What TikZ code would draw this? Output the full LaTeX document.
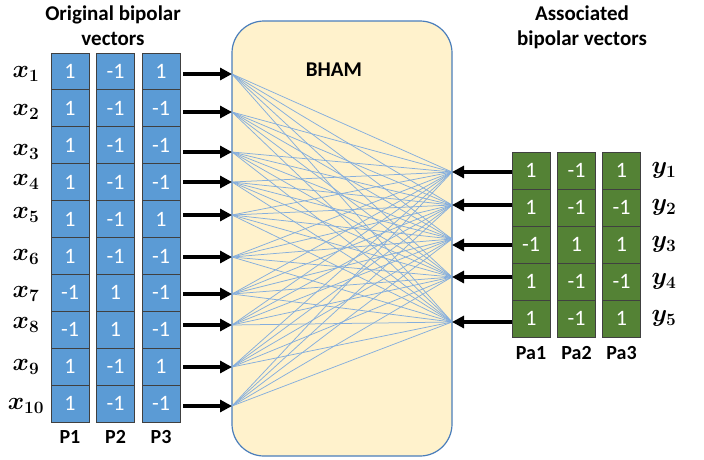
\documentclass[tikz,border=0pt]{standalone}
\usepackage{fontspec}
\setmainfont{Carlito}
\usepackage{bm}
\usetikzlibrary{arrows.meta}
\definecolor{cellblue}{HTML}{5B9BD5}
\definecolor{cellgreen}{HTML}{548235}
\definecolor{boxfill}{HTML}{FFF2CC}
\definecolor{boxline}{HTML}{4A7EBB}
\definecolor{wire}{HTML}{85AEDD}
\begin{document}
\begin{tikzpicture}[x=1pt,y=-1pt,
  bcell/.style={draw=black!75, line width=1pt, fill=cellblue, minimum width=38pt,
    minimum height=36.9pt, text=white, font=\fontsize{22}{22}\selectfont, inner sep=0pt},
  gcell/.style={bcell, fill=cellgreen, minimum height=37pt},
  titletext/.style={font=\fontsize{21}{25}\selectfont\bfseries, align=center},
  collabel/.style={font=\fontsize{20}{20}\selectfont\bfseries},
  varlabel/.style={font=\fontsize{24}{24}\selectfont},
  bigarrow/.style={line width=3.5pt, -{Triangle[length=12pt,width=12pt]}},
  wireline/.style={wire, line width=0.75pt},
  bhambox/.style={draw=boxline, line width=1.2pt, fill=boxfill, rounded corners=32pt,
    minimum width=220pt, minimum height=435pt, inner sep=0pt}
]
\useasboundingbox (0,0) rectangle (704,459);

% titles
\node[titletext] (ttl) at (113,26) {Original bipolar\\vectors};
\node[titletext] (ttr) at (582,27) {Associated\\bipolar vectors};

% BHAM box
\node[bhambox] (bham) at (342,238.5) {};
\node[font=\fontsize{21}{21}\selectfont\bfseries] (bhamlbl) at (334,70) {BHAM};

% left columns
\foreach \i/\a/\b/\c in {1/1/-1/1, 2/1/-1/-1, 3/1/-1/-1, 4/1/-1/-1, 5/1/-1/1,
                         6/1/-1/-1, 7/-1/1/-1, 8/-1/1/-1, 9/1/-1/1, 10/1/-1/-1}{
  \pgfmathsetmacro{\yy}{53+36.9*(\i-0.5)}
  \node[bcell] (pa\i) at (70,\yy) {\a};
  \node[bcell] (pb\i) at (115.5,\yy) {\b};
  \node[bcell] (pc\i) at (161,\yy) {\c};
}
\node[collabel] (lp1) at (70,437) {P1};
\node[collabel] (lp2) at (115.5,437) {P2};
\node[collabel] (lp3) at (161,437) {P3};

% right columns
\foreach \i/\a/\b/\c in {1/1/-1/1, 2/1/-1/-1, 3/-1/1/1, 4/1/-1/-1, 5/1/-1/1}{
  \pgfmathsetmacro{\yy}{152+37*(\i-0.5)}
  \node[gcell] (qa\i) at (531,\yy) {\a};
  \node[gcell] (qb\i) at (576.5,\yy) {\b};
  \node[gcell] (qc\i) at (621.5,\yy) {\c};
  \node[varlabel] (yl\i) at (664,\yy) {$\bm{y}_{\bm{\i}}$};
}
\node[collabel] (lq1) at (531,353) {Pa1};
\node[collabel] (lq2) at (576.5,353) {Pa2};
\node[collabel] (lq3) at (621.5,353) {Pa3};

% left arrow coordinates and labels
\foreach \i/\ya in {1/74, 2/112, 3/152, 4/182, 5/215, 6/257, 7/294, 8/325, 9/367, 10/406}{
  \coordinate (ls\i) at (183,\ya);
  \coordinate (le\i) at (232,\ya);
  \node[varlabel] (xl\i) at (26,\ya) {$\bm{x}_{\bm{\i}}$};
}

% right coordinates
\foreach \j/\yb/\yw in {1/172/172, 2/205/205, 3/245/239, 4/277/277, 5/322/322}{
  \coordinate (rs\j) at (512,\yb);
  \coordinate (re\j) at (452,\yb);
  \coordinate (rw\j) at (452,\yw);
}

% wires
\foreach \i in {1,...,10}{
  \foreach \j in {1,...,5}{
    \draw[wireline] (le\i) -- (rw\j);
  }
}

% arrows
\foreach \i in {1,...,10}{
  \draw[bigarrow] (ls\i) -- (le\i);
}
\foreach \j in {1,...,5}{
  \draw[bigarrow] (rs\j) -- (re\j);
}
\end{tikzpicture}
\end{document}
